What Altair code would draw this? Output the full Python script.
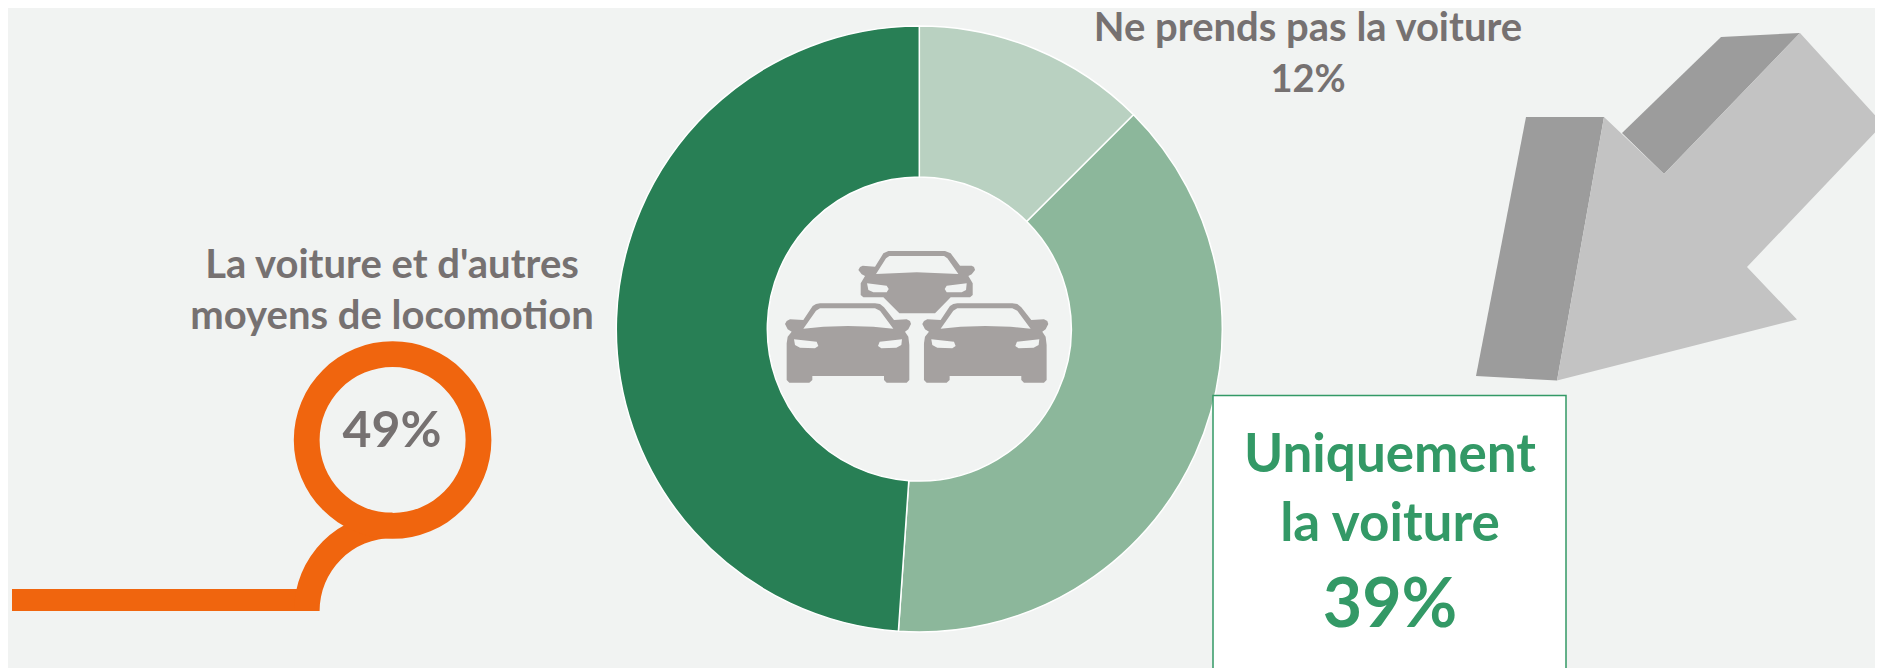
import altair as alt
import pandas as pd

# ---- chart values ----
categories = ["Ne prends pas la voiture", "Uniquement la voiture", "La voiture et d'autres moyens de locomotion"]
shares = [12.5, 38.6, 48.9]
slice_colors = ["#B9D1C1", "#8CB79B", "#287F55"]

BG = "#F1F3F2"
GREY = "#767171"
GREEN = "#339966"
ORANGE = "#F0650E"
FONT = "Lato"

# ---- decoration outlines (reference pixels) ----
arrow_light = [(1604, 117), (1664, 174), (1800, 33), (1883, 124), (1747, 267), (1797, 319.5), (1557, 380.5)]
arrow_left = [(1526, 117), (1604, 117), (1557, 380.5), (1476, 376)]
arrow_top = [(1622, 133), (1721, 37), (1800, 33), (1664, 174)]

# Car outlines, measured on a 3x crop
big_outer = [(135, 312), (140, 303), (150, 298), (190, 300), (218, 258), (228, 252), (240, 250), (405, 250), (420, 252),
             (432, 262), (462, 300), (500, 298), (510, 303), (513, 312), (505, 328), (495, 335), (505, 350), (508, 375),
             (508, 480), (500, 488), (440, 488), (432, 480), (432, 468), (217, 468), (217, 480), (208, 488), (148, 488),
             (140, 480), (140, 370), (143, 350), (155, 335), (143, 328)]
big_shield = [(190, 326), (250, 320), (324, 318), (400, 320), (460, 326), (420, 272), (405, 265), (240, 265), (228, 272)]
big_lamp_l = [(162, 358), (165, 375), (180, 383), (225, 385), (235, 378), (230, 365)]
big_lamp_r = [(414, 378), (424, 385), (469, 383), (484, 375), (486, 358), (419, 365)]

top_outer = [(355, 150), (360, 141), (368, 137), (405, 140), (430, 100), (445, 93), (615, 93), (632, 100), (660, 137),
             (695, 137), (702, 141), (705, 150), (695, 163), (685, 168), (698, 190), (698, 225), (690, 232), (632, 232),
             (585, 280), (478, 280), (430, 232), (370, 232), (362, 225), (362, 190), (375, 168), (365, 163)]
top_shield = [(408, 162), (530, 157), (655, 162), (622, 115), (612, 108), (448, 108), (438, 115)]
top_lamp_l = [(381, 190), (385, 210), (400, 217), (440, 217), (446, 207), (440, 197)]
top_lamp_r = [(614, 207), (620, 217), (665, 217), (678, 210), (680, 190), (620, 197)]


def car_path(rings, cx, cy):
    parts = []
    for ring in rings:
        pts = [f"{(x - cx) / 3:.2f} {(y - cy) / 3:.2f}" for x, y in ring]
        parts.append("M " + " L ".join(pts) + " Z")
    return " ".join(parts)


BIG_CAR = car_path([big_outer, big_shield, big_lamp_l, big_lamp_r], 324, 368)
TOP_CAR = car_path([top_outer, top_shield, top_lamp_l, top_lamp_r], 530, 186)

X = alt.X("x:Q", scale=alt.Scale(domain=[8, 1875], nice=False), axis=None)
Y = alt.Y("y:Q", scale=alt.Scale(domain=[668, 8], nice=False), axis=None)


def polygon(points, color):
    df = pd.DataFrame({"x": [p[0] for p in points], "y": [p[1] for p in points], "i": range(len(points))})
    return alt.Chart(df).mark_line(interpolate="linear-closed", fill=color, strokeWidth=0, clip=False).encode(
        x=X, y=Y, order="i:Q")


def label(text, x, y, size, color):
    return alt.Chart(pd.DataFrame({"x": [x], "y": [y], "t": [text]})).mark_text(
        font=FONT, fontWeight="bold", fontSize=size, color=color, align="center", baseline="alphabetic"
    ).encode(x=X, y=Y, text="t:N")


# Donut
donut_df = pd.DataFrame({"cat": categories, "share": shares, "i": [0, 1, 2],
                         "x": [919.3] * 3, "y": [329] * 3})
donut = alt.Chart(donut_df).mark_arc(radius=303, radius2=152, stroke="white", strokeWidth=1.5).encode(
    x=X, y=Y,
    theta=alt.Theta("share:Q", stack=True, scale=alt.Scale(domain=[0, 100])),
    order=alt.Order("i:Q"),
    color=alt.Color("cat:N", scale=alt.Scale(domain=categories, range=slice_colors), legend=None),
)

# Cars
def car(path, x, y):
    return alt.Chart(pd.DataFrame({"x": [x], "y": [y]})).mark_point(
        shape=path, size=4, filled=True, fill="#A5A1A0", stroke=None, opacity=1).encode(x=X, y=Y)


cars = [car(TOP_CAR, 916.7, 282), car(BIG_CAR, 848, 342.7), car(BIG_CAR, 985.3, 342.7)]

# Orange pin
pin_bar = alt.Chart(pd.DataFrame({"x": [12], "x2": [319], "y": [589], "y2": [611]})).mark_rect(color=ORANGE).encode(
    x=X, x2="x2:Q", y=Y, y2="y2:Q")
pin_curve = alt.Chart(pd.DataFrame({"x": [392.6], "y": [611]})).mark_arc(
    radius=98.6, radius2=73, theta=4.71239, theta2=6.28319, color=ORANGE).encode(x=X, y=Y)
pin_ring = alt.Chart(pd.DataFrame({"x": [392.6], "y": [440]})).mark_arc(
    radius=98.8, radius2=73, theta=0, theta2=6.28319, color=ORANGE).encode(x=X, y=Y)

# Callout box
box = alt.Chart(pd.DataFrame({"x": [1213], "x2": [1566], "y": [395.4], "y2": [690]})).mark_rect(
    fill="white", stroke=GREEN, strokeWidth=1.5).encode(x=X, x2="x2:Q", y=Y, y2="y2:Q")

layers = [polygon(arrow_left, "#9C9C9C"), polygon(arrow_top, "#9C9C9C"), polygon(arrow_light, "#C3C3C3"),
          donut, *cars, pin_bar, pin_curve, pin_ring, box,
          label("Ne prends pas la voiture", 1308, 40.5, 40, GREY),
          label("12%", 1308, 91.6, 38, GREY),
          label("La voiture et d'autres", 392, 278, 40, GREY),
          label("moyens de locomotion", 392, 329, 40, GREY),
          label("49%", 392, 447, 50, GREY),
          label("Uniquement", 1390, 471.7, 53, GREEN),
          label("la voiture", 1390, 541, 53, GREEN),
          label("39%", 1390, 627, 68, GREEN)]

chart = alt.layer(*layers).properties(
    width=1867, height=660, padding=0, background=BG,
    autosize=alt.AutoSizeParams(type="none"),
).configure_view(stroke=None)

chart.save("out.html", embed_options={"renderer": "svg", "actions": False})
